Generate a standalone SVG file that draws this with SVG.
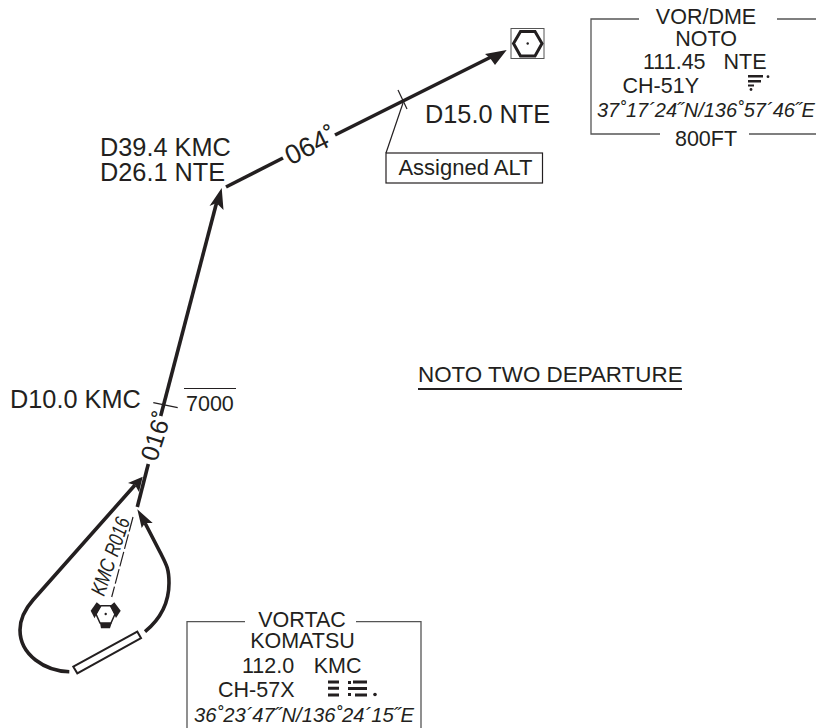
<svg xmlns="http://www.w3.org/2000/svg" width="816" height="728" viewBox="0 0 816 728">
<style>
text{font-family:"Liberation Sans",Arial,sans-serif;fill:#231f20;font-size:21.500px}
.m{text-anchor:middle}
.i{font-style:italic;font-size:20px}
.l{font-size:25.300px}
.r{fill:none;stroke:#231f20;stroke-width:3.6}
.t{fill:none;stroke:#231f20;stroke-width:1.2}
.b{fill:none;stroke:#555;stroke-width:1.3}
.k{fill:#231f20;stroke:none}
</style>
<g id="connectors">
<path class="r" d="M148.300 464 L137.300 507"/>
<path class="r" d="M160.700 416 L216.500 203"/>
<path class="k" d="M221.700 188 L223.500 210 L216.500 203 L209.500 206Z"/>
<path class="r" d="M226 187 L283 158"/>
<path class="r" d="M335 135 L491 57"/>
<path class="k" d="M506.700 50 L495 65 L490 58 L485 54Z"/>
<path class="r" d="M69.300 671.700 C45 671 20 655 20 630 C20 618 26 608 33 600 L135 485"/>
<path class="k" d="M142.700 476.700 L139 492 L135 485 L128 483Z"/>
<path class="r" d="M145 631.700 C158 621 169 606 169 583 C169 568 166 564 160 552 L145 523"/>
<path class="k" d="M137.300 509.300 L152.700 523 L145 523 L141.700 528Z"/>
<path class="t" d="M398 90 L407 109"/>
<path class="t" d="M403 103 L386 153"/>
<path class="t" d="M153.300 402.700 L177.700 407.700"/>
<path class="t" d="M184 388.500 L236 388.500"/>
<path class="t" stroke-dasharray="15 3" d="M133 517 L111.700 597"/>
</g>
<g id="vor-symbol">
<rect x="511" y="28.500" width="33" height="30" fill="none" stroke="#555" stroke-width="1"/>
<path fill="none" stroke="#231f20" stroke-width="3" d="M513.500 43.500 L520.500 31.500 L535 31.500 L542 43.500 L535 56 L520.500 56Z"/>
<circle class="k" cx="527.700" cy="43.500" r="1.200"/>
</g>
<g id="vortac-symbol">
<path fill="none" stroke="#231f20" stroke-width="1.500" d="M101 605.700 L110.500 605.700 L115 614 L111 623 L100 623 L96 614Z"/>
<path class="k" d="M100 623 L111.700 623 L110 628.300 L101 628.300Z"/>
<path class="k" d="M90.700 610.700 L96.700 602.300 L101 605.700 L94.500 618.300Z"/>
<path class="k" d="M114.300 602.300 L120.700 610.700 L116 618 L110 606Z"/>
<circle class="k" cx="105.700" cy="614" r="1.200"/>
</g>
<g id="holding-bar">
<path fill="#fff" stroke="#231f20" stroke-width="2" d="M73.300 666.700 L137.300 631.700 L141 638 L77.300 673.300Z"/>
</g>
<g id="route-labels">
<text x="425" y="122.500" class="l">D15.0 NTE</text>
<text x="100" y="156" class="l">D39.4 KMC</text>
<text x="100" y="180.500" class="l">D26.1 NTE</text>
<text x="10" y="408" class="l">D10.0 KMC</text>
<text x="186" y="411">7000</text>
<text x="418" y="382" style="font-size:22.400px">NOTO TWO DEPARTURE</text>
<path d="M418 389 L682 389" fill="none" stroke="#231f20" stroke-width="2"/>
<text transform="translate(290.400 165.400) rotate(-26)" style="font-size:27px">064˚</text>
<text transform="translate(156.500 462.400) rotate(-72)" style="font-size:25px">016˚</text>
<text transform="translate(104 597) rotate(-71)" class="i" style="font-size:21px" textLength="81" lengthAdjust="spacingAndGlyphs">KMC R016</text>
</g>
<g id="assigned-alt">
<rect x="386" y="153" width="156.500" height="30" fill="#fff" stroke="#231f20" stroke-width="1.200"/>
<text x="465.500" y="175" class="m" style="font-size:22px">Assigned ALT</text>
</g>
<g id="nav-noto">
<path class="b" d="M639 19 L591 19 L591 134 L660 134 M777 19 L816 19 M749 134 L816 134"/>
<text x="706" y="24" class="m">VOR/DME</text>
<text x="706" y="46" class="m">NOTO</text>
<text x="643" y="68.700" word-spacing="12">111.45 NTE</text>
<text x="622.500" y="92.700">CH-51Y</text>
<path class="k" d="M748 75 h15 v2.400 h-15z M748 80 h13 v2.400 h-13z M748 84.500 h6 v2 h-6z"/>
<circle class="k" cx="768" cy="76.700" r="1.400"/><circle class="k" cx="751" cy="89.500" r="1.400"/>
<text x="597" y="117" class="i">37˚17´24˝N/136˚57´46˝E</text>
<text x="706" y="146" class="m">800FT</text>
</g>
<g id="nav-komatsu">
<path class="b" d="M245 621.700 L187 621.700 L187 728 M356 621.700 L421 621.700 L421 728"/>
<text x="302" y="626.700" class="m">VORTAC</text>
<text x="302.500" y="648" class="m">KOMATSU</text>
<text x="242" y="672.700" word-spacing="13.500">112.0 KMC</text>
<text x="218" y="697">CH-57X</text>
<path class="k" d="M328 680.500 h11 v3 h-11z M328 686.700 h11 v3 h-11z M328 693.500 h11 v3 h-11z M348 681 h3 v3 h-3z M348 693 h3 v3 h-3z M353 680.500 h14 v3 h-14z M348 687 h19 v3 h-19z M355 693.500 h12 v3 h-12z"/>
<circle class="k" cx="375" cy="694.500" r="1.800"/>
<text x="194" y="721.700" class="i" style="font-size:20.200px">36˚23´47˝N/136˚24´15˝E</text>
</g>
</svg>
